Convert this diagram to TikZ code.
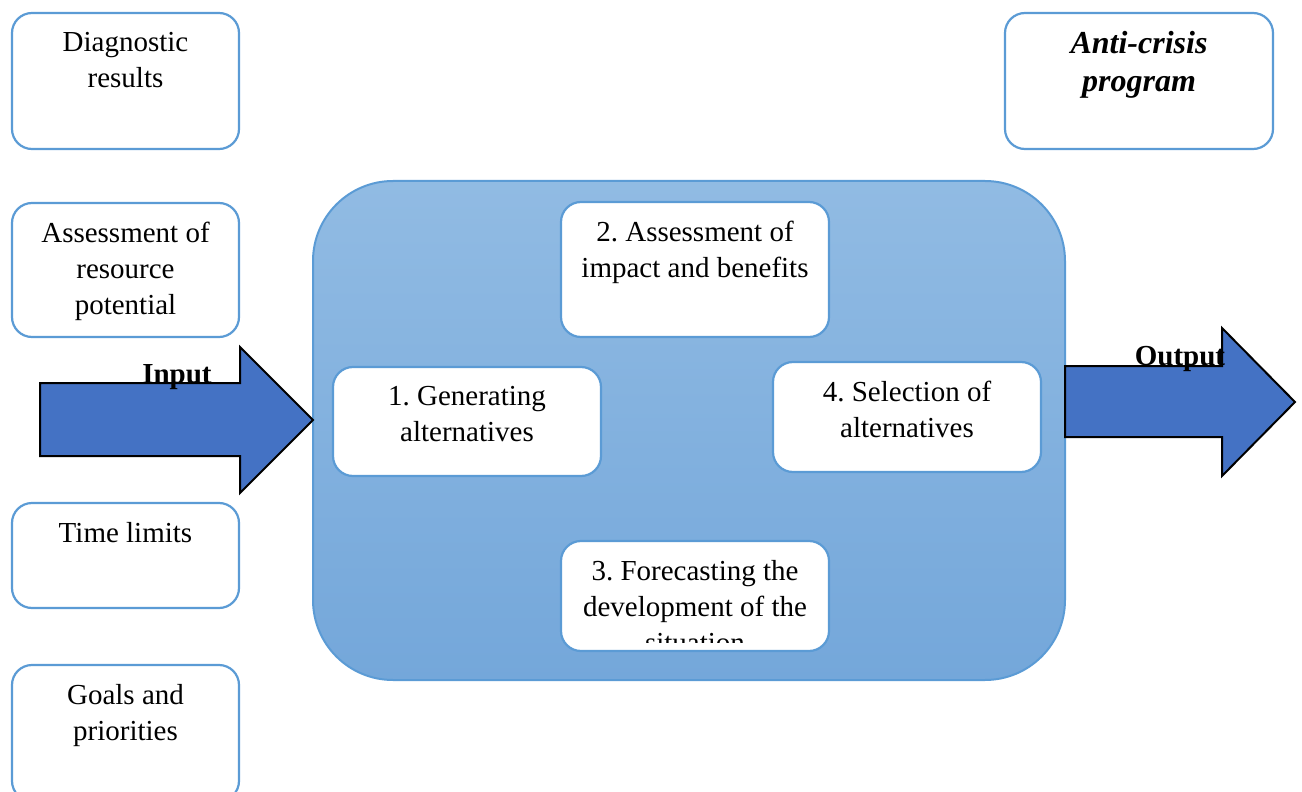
\documentclass[tikz,border=0pt]{standalone}
\usepackage{fontspec}
\setmainfont{Liberation Serif}
\frenchspacing
\usetikzlibrary{positioning}
\definecolor{boxline}{RGB}{91,155,213}
\definecolor{paneltop}{RGB}{145,187,227}
\definecolor{panelbot}{RGB}{116,167,218}
\definecolor{arrowblue}{RGB}{68,114,196}
\tikzset{
  box/.style={draw=boxline, line width=1.1pt, rounded corners=10pt, fill=white,
    minimum width=134pt, minimum height=55pt, inner sep=0pt},
  sidebox/.style={box, minimum width=113.5pt},
  txt/.style={align=center, inner sep=0pt, font=\fontsize{14.5}{18}\selectfont},
  bigarrow/.style={draw=black, line width=1pt, fill=arrowblue, line join=miter},
}
\begin{document}
\begin{tikzpicture}[x=0.5pt, y=-0.5pt]
    \useasboundingbox (0,0) rectangle (1302,792);
    % inputs on the left
    \node[sidebox, minimum height=68pt] (diag) at (125.5,81) {};
    \node[txt, below=10pt of diag.north] (diag-t) {Diagnostic\\results};
    \node[sidebox, minimum height=67pt] (res) at (125.5,270) {};
    \node[txt, below=10pt of res.north] (res-t) {Assessment of\\resource\\potential};
    \node[sidebox, minimum height=52.5pt] (time) at (125.5,555.5) {};
    \node[txt, below=10pt of time.north] (time-t) {Time limits};
    \node[sidebox, minimum height=68pt] (goal) at (125.5,733) {};
    \node[txt, below=10pt of goal.north] (goal-t) {Goals and\\priorities};
    % result
    \node[box, minimum height=68pt] (prog) at (1139,81) {};
    \node[txt, font=\fontsize{16}{19}\selectfont\bfseries\itshape,
      below=9.5pt of prog.north] (prog-t) {Anti-crisis\\program};
    % main block
    \node[draw=boxline, line width=1pt, rounded corners=40pt,
      top color=paneltop, bottom color=panelbot,
      minimum width=376pt, minimum height=249.5pt] (panel) at (689,430.5) {};
    \node[box, minimum height=67.5pt] (assess) at (695,269.5) {};
    \node[txt, below=10pt of assess.north] (assess-t) {2. Assessment of\\impact and benefits};
    \node[box, minimum height=54.5pt] (gen) at (467,421.5) {};
    \node[txt, below=10pt of gen.north] (gen-t) {1. Generating\\alternatives};
    \node[box] (sel) at (907,417) {};
    \node[txt, below=10pt of sel.north] (sel-t) {4. Selection of\\alternatives};
    \node[box] (fc) at (695,596) {};
    \begin{scope}
      \clip (fc.north west) rectangle ([yshift=5pt]fc.south east);
      \node[txt, below=10pt of fc.north] (fc-t) {3. Forecasting the\\development of the\\situation};
    \end{scope}
    % input and output arrows
    \draw[bigarrow] (40,383) -- (240,383) -- (240,347) -- (313,420)
      -- (240,493) -- (240,456) -- (40,456) -- cycle;
    \draw[bigarrow] (1065,366) -- (1222,366) -- (1222,328) -- (1295,402)
      -- (1222,476) -- (1222,437) -- (1065,437) -- cycle;
    \node[txt, font=\fontsize{14.5}{18}\selectfont\bfseries, anchor=base] (in-t) at (177,383) {Input};
    \node[txt, font=\fontsize{14.5}{18}\selectfont\bfseries, anchor=base] (out-t) at (1180,365) {Output};
\end{tikzpicture}
\end{document}
